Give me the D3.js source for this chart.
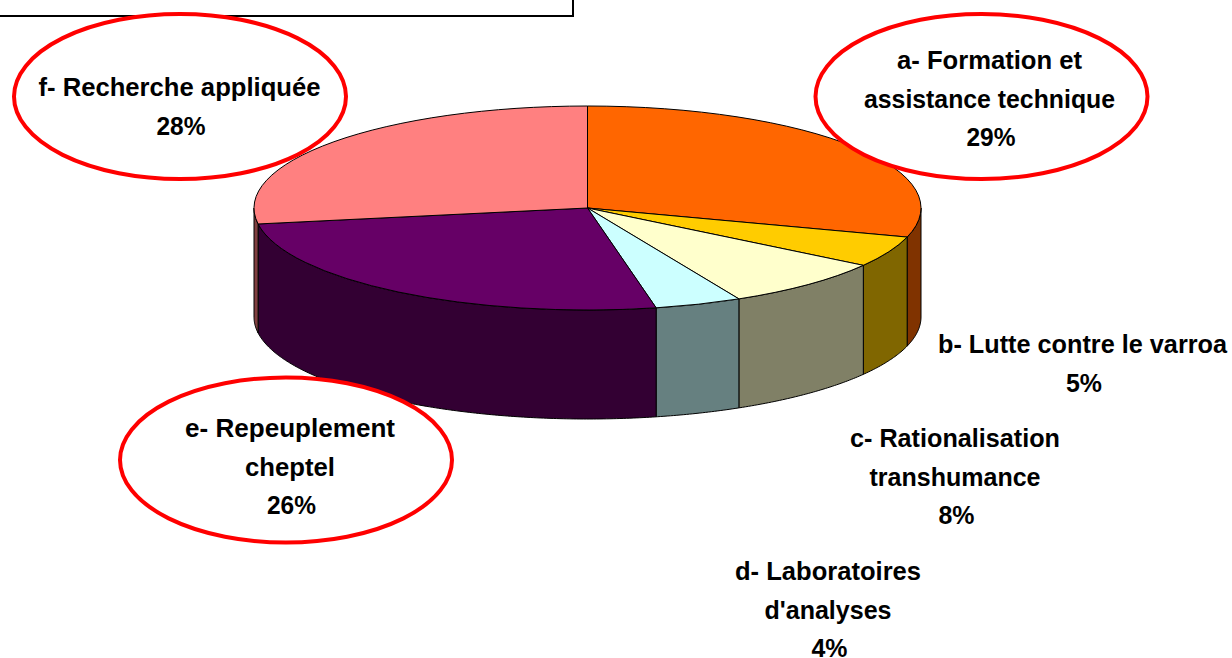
<!DOCTYPE html>
<html>
<head>
<meta charset="utf-8">
<script src="https://cdn.jsdelivr.net/npm/d3@7"></script>
<style>
  html, body { margin: 0; padding: 0; background: #fff; overflow: hidden; }
  text { font-family: "Liberation Sans", Arial, sans-serif; font-weight: bold; fill: #000; }
</style>
</head>
<body>
<script>
// width and height for svg
var w = 1232;
var h = 658;

// slices, clockwise from twelve o'clock (shares read from the slice edges)
var letters = ["a", "b", "c", "d", "e", "f"];
var shares = [29.6, 4.9, 8.0, 4.2, 25.8, 27.5];
var percents = ["29%", "5%", "8%", "4%", "26%", "28%"];
var names = [
  ["a- Formation et", "assistance technique"],
  ["b- Lutte contre le varroa"],
  ["c- Rationalisation", "transhumance"],
  ["d- Laboratoires", "d'analyses"],
  ["e- Repeuplement", "cheptel"],
  ["f- Recherche appliquée"]
];
var topColors = ["#ff6600", "#ffcc00", "#ffffcc", "#ccffff", "#660066", "#ff8080"];
var sideColors = ["#803300", "#806600", "#808066", "#668080", "#330033", "#804040"];

// where each label sits: centre x, first baseline, width of each line
var labelX = [989.5, 1082.5, 955, 828, 290, 179.5];
var labelY = [69, 353, 447, 580, 437, 96];
var labelWidths = [
  [185, 251, 49],
  [289, 36],
  [210, 171, 36],
  [186, 127, 36],
  [210, 90, 49],
  [282, 49]
];
var lineStep = 38.5;

// red ellipses behind the labels a, e and f
var circled = ["a", "e", "f"];
var circleX = [981.5, 286, 180];
var circleY = [96.5, 460, 96.5];

// pie geometry
var cx = 587.5;
var cy = 208;
var rx = 333.5;
var ry = 102;
var depth = 109;

var svg = d3.select("body").append("svg")
  .attr("width", w)
  .attr("height", h)
  .style("display", "block");

// box cut off by the top of the page
svg.append("rect")
  .attr("x", -10)
  .attr("y", -10)
  .attr("width", 583)
  .attr("height", 26)
  .attr("fill", "#fff")
  .attr("stroke", "#000")
  .attr("stroke-width", 2);

var slices = d3.pie().sort(null)(shares);

// point on the rim for an angle measured clockwise from the top
function rim(angle, drop) {
  return [cx + rx * Math.sin(angle), cy - ry * Math.cos(angle) + drop];
}

// only the front half of the wall can be seen
function wallPath(d) {
  var start = Math.max(d.startAngle, Math.PI / 2);
  var end = Math.min(d.endAngle, 3 * Math.PI / 2);
  if (start >= end) return null;
  var steps = d3.range(start, end, 0.01).concat([end]);
  var upper = steps.map(function(a) { return rim(a, 0); });
  var lower = steps.slice().reverse().map(function(a) { return rim(a, depth); });
  return d3.line()(upper.concat(lower)) + "Z";
}

// walls, drawn from both ends towards the front
var walls = svg.append("g");
walls.selectAll("path")
  .data(slices)
  .enter()
  .append("path")
  .attr("d", wallPath)
  .attr("fill", function(d, i) { return sideColors[i]; })
  .attr("stroke", "#000")
  .attr("stroke-width", 1);

// top face is a normal arc squashed into an ellipse
var arc = d3.arc().innerRadius(0).outerRadius(rx);
svg.append("g")
  .attr("transform", "translate(" + cx + "," + cy + ") scale(1," + (ry / rx) + ")")
  .selectAll("path")
  .data(slices)
  .enter()
  .append("path")
  .attr("d", arc)
  .attr("fill", function(d, i) { return topColors[i]; })
  .attr("stroke", "#000")
  .attr("stroke-width", 1)
  .attr("vector-effect", "non-scaling-stroke");

// ellipses go over the pie
svg.selectAll("ellipse")
  .data(circled)
  .enter()
  .append("ellipse")
  .attr("cx", function(d, i) { return circleX[i]; })
  .attr("cy", function(d, i) { return circleY[i]; })
  .attr("rx", 166)
  .attr("ry", 82.5)
  .attr("fill", "#fff")
  .attr("stroke", "#ff0000")
  .attr("stroke-width", 4);

// labels, squeezed to the width each line has in the original
var labels = svg.selectAll("g.label")
  .data(letters)
  .enter()
  .append("g")
  .attr("class", "label");

labels.selectAll("text")
  .data(function(d, i) {
    return names[i].concat([percents[i]]).map(function(line, k) {
      return { line: line, slice: i, isPercent: k == names[i].length };
    });
  })
  .enter()
  .append("text")
  // percent lines sit a little right of the name lines
  .attr("x", function(d) { return labelX[d.slice] + (d.isPercent ? 1.5 : 0); })
  .attr("y", function(d, i) { return labelY[d.slice] + i * lineStep; })
  .attr("text-anchor", "middle")
  .attr("textLength", function(d, i) { return labelWidths[d.slice][i]; })
  .attr("lengthAdjust", "spacingAndGlyphs")
  .style("font-size", "26px")
  .text(function(d) { return d.line; });
</script>
</body>
</html>
